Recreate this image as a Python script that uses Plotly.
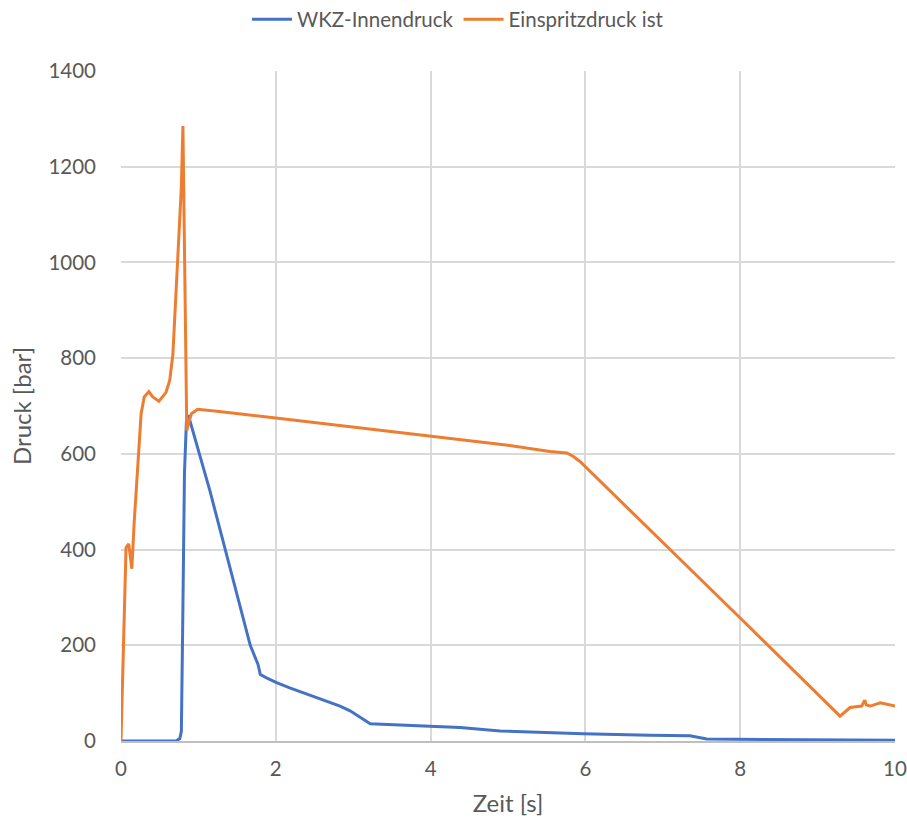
import plotly.graph_objects as go

# WKZ-Innendruck (blue)
t_wkz = [0.0, 0.50, 0.71, 0.76, 0.78, 0.80, 0.82, 0.845, 0.87, 1.15, 1.41, 1.67, 1.77, 1.80, 1.88, 2.01, 2.18, 2.53, 2.83, 2.96, 3.22, 3.99, 4.38, 4.90, 5.54, 5.97, 6.83, 7.35, 7.57, 8.5, 10.0]
p_wkz = [0.0, 0.0, 0.0, 5, 20, 280, 560, 667, 681, 522, 360, 200, 160, 139, 132, 122, 111, 90, 73, 63, 36, 31, 28, 21, 17, 15, 12, 11, 4, 2.5, 1.5]

# Einspritzdruck ist (orange)
t_ein = [0.0, 0.03, 0.065, 0.10, 0.14, 0.17, 0.22, 0.26, 0.30, 0.36, 0.41, 0.49, 0.58, 0.63, 0.67, 0.72, 0.78, 0.80, 0.82, 0.85, 0.88, 0.91, 0.99, 1.24, 2.0, 3.0, 4.0, 5.0, 5.54, 5.76, 5.84, 5.93, 8.0, 9.29, 9.42, 9.57, 9.61, 9.63, 9.68, 9.81, 10.0]
p_ein = [0.0, 200, 404, 412, 360, 456, 588, 684, 719, 730, 719, 710, 728, 754, 807, 982, 1158, 1285, 982, 649, 668, 684, 693, 689, 675, 656, 636, 618, 605, 602, 595, 584, 257, 52, 70, 73, 85, 75, 73, 80, 73]

x_ticks = [0, 2, 4, 6, 8, 10]
y_ticks = [0, 200, 400, 600, 800, 1000, 1200, 1400]

font_family = "Lato, 'Open Sans', sans-serif"
grey = "#595959"

fig = go.Figure()
fig.add_trace(go.Scatter(x=t_wkz, y=p_wkz, mode="lines", name="WKZ-Innendruck",
                         line=dict(color="#4472C4", width=3)))
fig.add_trace(go.Scatter(x=t_ein, y=p_ein, mode="lines", name="Einspritzdruck ist",
                         line=dict(color="#ED7D31", width=3)))

W, H = 907, 825
fig.update_layout(
    width=W, height=H,
    margin=dict(l=121, r=12, t=71, b=84, autoexpand=False),
    paper_bgcolor="white", plot_bgcolor="white",
    font=dict(family=font_family, color=grey, size=20),
    legend=dict(orientation="h", x=0.505, xanchor="center", xref="container",
                y=1 - 19.5 / H, yanchor="middle", yref="container",
                font=dict(size=20.5, color=grey), itemwidth=40, tracegroupgap=0),
    xaxis=dict(range=[0, 10], tickvals=x_ticks, showgrid=True, gridcolor="#d9d9d9", gridwidth=1.5,
               zeroline=False, showline=True, linecolor="#bfbfbf", linewidth=1.5,
               ticks="", tickfont=dict(size=20.5, color=grey), ticklabelstandoff=9,
               automargin=False,
               title=dict(text="Zeit [s]", font=dict(size=24, color=grey), standoff=16)),
    yaxis=dict(range=[0, 1400], tickvals=y_ticks, showgrid=True, gridcolor="#d9d9d9", gridwidth=1.5,
               zeroline=False, showline=False, ticks="", tickfont=dict(size=20.5, color=grey),
               ticklabelstandoff=24, automargin=False,
               title=dict(text="Druck [bar]", font=dict(size=24, color=grey), standoff=10)),
)

fig.write_html("out.html",
               config={"displayModeBar": False},
               post_script="document.body.style.margin='0';document.body.style.overflow='hidden';")
